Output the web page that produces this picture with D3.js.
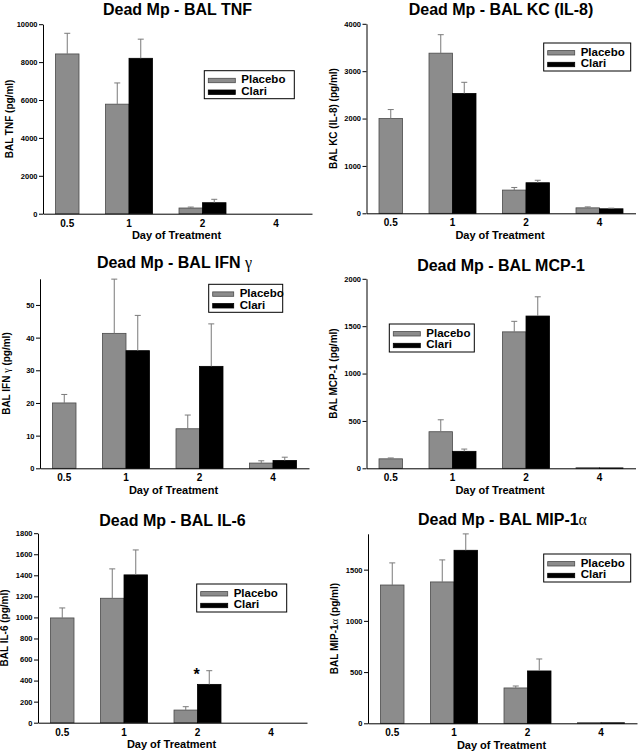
<!DOCTYPE html>
<html><head><meta charset="utf-8">
<script src="https://cdn.jsdelivr.net/npm/d3@7"></script>
<style>
body{margin:0;background:#fff}
svg{display:block}
text{font-family:"Liberation Sans",Arial,Helvetica,sans-serif}
</style>
</head><body>
<svg id="chart" width="642" height="754"></svg>
<script>
// ---------- data ----------
const days = ["0.5", "1", "2", "4"];
const seriesNames = ["Placebo", "Clari"];
const titles = ["Dead Mp - BAL TNF", "Dead Mp - BAL KC (IL-8)", "Dead Mp - BAL IFN γ",
                "Dead Mp - BAL MCP-1", "Dead Mp - BAL IL-6", "Dead Mp - BAL MIP-1α"];
const yLabels = ["BAL TNF (pg/ml)", "BAL KC (IL-8) (pg/ml)", "BAL IFN γ (pg/ml)",
                 "BAL MCP-1 (pg/ml)", "BAL IL-6 (pg/ml)", "BAL MIP-1α (pg/ml)"];
const xLabel = "Day of Treatment";

const tnfPlacebo = [8430, 5780, 300, 0],  tnfPlaceboSem = [1090, 1120, 50, 0];
const tnfClari   = [null, 8200, 580, 0],  tnfClariSem   = [null, 1010, 180, 0];
const kcPlacebo  = [2000, 3380, 490, 115], kcPlaceboSem = [190, 390, 55, 20];
const kcClari    = [null, 2530, 645, 95],  kcClariSem   = [null, 235, 52, 13];
const ifnPlacebo = [20.0, 41.3, 12.1, 1.6], ifnPlaceboSem = [2.6, 16.6, 4.2, 0.7];
const ifnClari   = [null, 36.0, 31.2, 2.4], ifnClariSem   = [null, 10.8, 13.0, 1.0];
const mcpPlacebo = [100, 386, 1440, 6],   mcpPlaceboSem = [9, 126, 111, 0];
const mcpClari   = [null, 179, 1607, 4],  mcpClariSem   = [null, 24, 203, 0];
const il6Placebo = [995, 1182, 120, 0],   il6PlaceboSem = [95, 279, 32, 0];
const il6Clari   = [null, 1404, 364, 0],  il6ClariSem   = [null, 237, 130, 0];
const mipPlacebo = [1350, 1380, 345, 6],  mipPlaceboSem = [216, 215, 19, 0];
const mipClari   = [null, 1689, 511, 5],  mipClariSem   = [null, 160, 117, 0];

const yMax      = [10000, 4000, 58, 2000, 1800, 1850];
const yTickStep = [2000, 1000, 10, 500, 200, 500];
const significantDay = [null, null, null, null, "2", null];
const significanceMark = "*";

// ---------- layout ----------
const axisXs  = [43, 45.5, 40, 45.5, 38, 47];
const baseYs  = [213.7, 213.3, 218.3, 218.3, 222.7, 223.3];
const titleGap = [9, 8.5, 11, 8, 7.5, 8.5];
const legendPos = [[204.3, 70.7, 90], [222.7, 43, 87], [208.7, 34.3, 74],
                   [68.3, 74, 85], [196.7, 84, 90], [222.7, 54, 87]];
const legendSwatchW = [27, 27, 21, 27, 27, 27];
const plotW = 269, plotH = 189.5, barW = 23.5;
const colW = 321, rowH = 250;
const fills = ["#8c8c8c", "#000000"], strokes = ["#4a4a4a", "#000000"];

const panels = [
  [tnfPlacebo, tnfPlaceboSem, tnfClari, tnfClariSem],
  [kcPlacebo, kcPlaceboSem, kcClari, kcClariSem],
  [ifnPlacebo, ifnPlaceboSem, ifnClari, ifnClariSem],
  [mcpPlacebo, mcpPlaceboSem, mcpClari, mcpClariSem],
  [il6Placebo, il6PlaceboSem, il6Clari, il6ClariSem],
  [mipPlacebo, mipPlaceboSem, mipClari, mipClariSem]
];

const svg = d3.select("#chart");

function richText(sel, str) {
  str.split(/([α-ω])/).forEach(part => {
    if (!part) return;
    const greek = /^[α-ω]$/.test(part);
    sel.append("tspan").text(part)
      .attr("font-weight", greek ? "normal" : null)
      .attr("font-family", greek ? "'Liberation Serif','DejaVu Serif',serif" : null);
  });
}

panels.forEach((p, i) => {
  const [plac, placSem, clar, clarSem] = p;
  const ox = (i % 2) * colW, oy = Math.floor(i / 2) * rowH;
  const g = svg.append("g").attr("transform", `translate(${ox},${oy})`);
  const ax = axisXs[i], y0 = baseYs[i];

  const y = d3.scaleLinear().domain([0, yMax[i]]).range([y0, y0 - plotH]);
  const x = d3.scalePoint().domain(days).range([ax + 12.5, ax + 233]);

  const bars = [];
  const labels = [];
  days.forEach((d, k) => {
    const c = x(d);
    const hasClari = clar[k] != null;
    bars.push({s: 0, x0: hasClari ? c - barW : c, v: plac[k], e: placSem[k]});
    if (hasClari) bars.push({s: 1, x0: c, v: clar[k], e: clarSem[k]});
    labels.push({d, x: hasClari ? c : c + barW / 2, k});
  });

  g.selectAll("rect.bar").data(bars).join("rect")
    .attr("class", "bar")
    .attr("x", b => b.x0).attr("width", barW)
    .attr("y", b => y(b.v)).attr("height", b => y(0) - y(b.v))
    .attr("fill", b => fills[b.s]).attr("stroke", b => strokes[b.s]).attr("stroke-width", 0.8);

  const eb = bars.filter(b => b.e > 0);
  g.selectAll("line.err").data(eb).join("line")
    .attr("x1", b => b.x0 + barW / 2).attr("x2", b => b.x0 + barW / 2)
    .attr("y1", b => y(b.v)).attr("y2", b => y(b.v + b.e))
    .attr("stroke", "#7a7a7a").attr("stroke-width", 1);
  g.selectAll("line.cap").data(eb).join("line")
    .attr("x1", b => b.x0 + barW / 2 - 3).attr("x2", b => b.x0 + barW / 2 + 3)
    .attr("y1", b => y(b.v + b.e)).attr("y2", b => y(b.v + b.e))
    .attr("stroke", "#7a7a7a").attr("stroke-width", 1);

  // y axis
  const yAxis = d3.axisLeft(y)
    .tickValues(d3.range(0, yMax[i] + 1e-9, yTickStep[i]))
    .tickFormat(d3.format("d"))
    .tickSize(4).tickSizeOuter(0).tickPadding(1.5);
  const ya = g.append("g").attr("transform", `translate(${ax},0)`).call(yAxis);
  ya.selectAll("text").attr("font-size", 7.5).attr("font-weight", "bold")
    .attr("font-family", "'Liberation Sans',Arial,sans-serif").attr("fill", "#000");
  ya.selectAll("path,line").attr("stroke", "#000");

  // x axis line
  const xl = d3.scaleLinear().domain([0, 1]).range([ax, ax + plotW]);
  const xa = g.append("g").attr("transform", `translate(0,${y0})`)
    .call(d3.axisBottom(xl).tickValues([]).tickSizeOuter(0));
  xa.selectAll("path").attr("stroke", "#000");

  // x tick labels
  g.selectAll("text.xt").data(labels).join("text")
    .attr("x", l => l.x).attr("y", y0 + 13)
    .attr("text-anchor", "middle").attr("font-size", 10).attr("font-weight", "bold")
    .text(l => l.d);

  // x label
  g.append("text").attr("x", ax + plotW / 2 - 1).attr("y", y0 + 25.5)
    .attr("text-anchor", "middle").attr("font-size", 11).attr("font-weight", "bold")
    .text(xLabel);

  // y label
  const yl = g.append("text")
    .attr("transform", `translate(${ax - 30},${y0 - plotH / 2}) rotate(-90)`)
    .attr("text-anchor", "middle").attr("font-size", 10).attr("font-weight", "bold");
  richText(yl, yLabels[i]);

  // title
  const t = g.append("text").attr("x", ax + plotW / 2).attr("y", y0 - plotH - titleGap[i])
    .attr("text-anchor", "middle").attr("font-size", 16).attr("font-weight", "bold");
  richText(t, titles[i]);

  // significance marker
  if (significantDay[i] != null) {
    const k = days.indexOf(significantDay[i]);
    g.append("text").attr("x", x(significantDay[i]) - 1)
      .attr("y", y(clar[k] + clarSem[k]) + 9.5)
      .attr("text-anchor", "middle").attr("font-size", 16).attr("font-weight", "bold")
      .text(significanceMark);
  }

  // legend
  const [lx, ly, lw] = legendPos[i];
  const sw = legendSwatchW[i];
  const lg = g.append("g").attr("transform", `translate(${lx},${ly})`);
  lg.append("rect").attr("width", lw).attr("height", 28)
    .attr("fill", "#fff").attr("stroke", "#000").attr("stroke-width", 1);
  seriesNames.forEach((name, s) => {
    lg.append("rect").attr("x", 4).attr("y", 7.6 + s * 11.7).attr("width", sw).attr("height", 4.4)
      .attr("fill", fills[s]).attr("stroke", strokes[s]).attr("stroke-width", 0.8);
    lg.append("text").attr("x", sw + 10).attr("y", 12.6 + s * 11.7)
      .attr("font-size", 11.5).attr("font-weight", "bold").text(name);
  });
});
</script>
</body></html>
